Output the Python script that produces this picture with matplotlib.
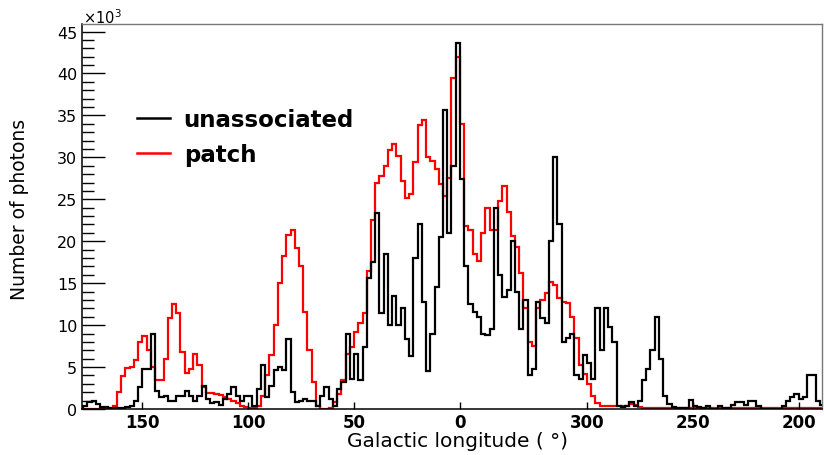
import numpy as np
import matplotlib
matplotlib.use("Agg")
import matplotlib.pyplot as plt
from matplotlib.ticker import MultipleLocator, FixedLocator, FuncFormatter

# 2-degree longitude bins, listed from l = +180 (left) down to l = -180 (right)
lon_edges_desc = np.arange(180, -181, -2)

# photon counts per bin, in thousands
patch_counts = [
    0.0, 0.0, 0.0, 0.0, 0.0, 0.0, 0.0, 0.0, 0.3, 2.0,
    3.9, 4.9, 5.0, 5.8, 8.0, 8.7, 7.0, 5.0, 3.4, 3.5,
    6.0, 10.8, 12.5, 11.5, 6.8, 4.3, 4.8, 6.5, 5.2, 2.6,
    1.9, 1.9, 1.8, 1.7, 1.4, 1.2, 1.0, 0.7, 0.4, 0.2,
    0.1, 0.1, 0.4, 1.6, 4.0, 6.4, 10.0, 15.0, 18.2, 20.8,
    21.4, 19.2, 17.0, 11.6, 7.0, 3.2, 0.3, 0.0, 0.0, 0.1,
    0.8, 1.8, 3.4, 6.5, 7.4, 9.2, 10.2, 11.5, 16.5, 22.5,
    27.0, 27.8, 29.0, 30.9, 31.6, 30.2, 27.2, 25.1, 25.6, 29.5,
    33.8, 34.4, 30.0, 29.6, 28.6, 26.8, 25.4, 27.5, 39.5, 42.0,
    34.0, 21.8, 21.3, 18.5, 17.6, 21.0, 24.0, 21.4, 21.4, 24.8,
    26.6, 23.5, 20.6, 19.3, 16.2, 12.0, 8.0, 7.5, 12.0, 13.0,
    13.8, 15.2, 14.8, 13.2, 12.8, 12.6, 11.0, 8.5, 5.3, 4.2,
    3.0, 1.6, 0.7, 0.4, 0.4, 0.4, 0.4, 0.3, 0.3, 0.3,
    0.6, 0.5, 0.2, 0.1, 0.1, 0.1, 0.1, 0.1, 0.1, 0.1,
    0.1, 0.1, 0.1, 0.1, 0.1, 0.1, 0.1, 0.1, 0.1, 0.1,
    0.1, 0.1, 0.1, 0.1, 0.1, 0.1, 0.1, 0.1, 0.1, 0.1,
    0.1, 0.1, 0.1, 0.1, 0.1, 0.1, 0.1, 0.1, 0.1, 0.1,
    0.1, 0.1, 0.1, 0.1, 0.1, 0.1, 0.1, 0.1, 0.1, 0.1,
]

unassociated_counts = [
    0.2, 0.3, 0.8, 0.9, 0.6, 0.2, 0.2, 0.1, 0.1, 0.1,
    0.1, 0.2, 0.4, 0.9, 2.6, 4.8, 4.8, 9.0, 2.2, 1.4,
    1.5, 1.0, 1.0, 1.6, 1.6, 2.1, 1.5, 1.0, 1.6, 2.7,
    1.2, 0.7, 0.8, 0.5, 1.2, 1.8, 2.6, 1.6, 1.0, 1.6,
    1.6, 0.3, 2.4, 5.2, 1.4, 2.8, 4.6, 5.0, 4.6, 8.4,
    2.0, 0.8, 1.0, 1.2, 0.9, 0.9, 0.3, 1.6, 2.6, 1.2,
    0.3, 2.4, 3.2, 8.9, 3.6, 6.6, 3.4, 7.4, 15.6, 17.5,
    23.4, 11.5, 18.5, 10.0, 13.5, 10.0, 12.0, 8.3, 6.3, 18.0,
    22.0, 12.8, 4.5, 9.0, 14.5, 20.5, 35.6, 21.0, 29.0, 43.6,
    27.4, 17.0, 12.5, 11.6, 11.0, 9.0, 8.8, 9.5, 24.0, 16.0,
    13.4, 14.2, 20.0, 14.0, 9.5, 13.0, 4.0, 4.8, 12.8, 10.8,
    10.3, 20.0, 30.0, 22.0, 8.0, 8.5, 9.0, 4.1, 3.6, 6.4,
    5.5, 3.6, 12.0, 7.0, 12.0, 9.8, 8.0, 0.3, 0.2, 0.4,
    0.8, 0.4, 0.9, 3.5, 4.8, 7.0, 11.0, 6.0, 1.6, 0.6,
    0.2, 0.1, 0.1, 0.1, 1.1, 0.4, 0.2, 0.1, 0.3, 0.05,
    0.0, 0.3, 0.1, 0.1, 0.5, 0.8, 0.8, 0.5, 1.0, 1.0,
    0.4, 0.05, 0.0, 0.0, 0.0, 0.05, 0.4, 0.9, 1.4, 1.8,
    1.2, 1.4, 4.0, 4.0, 1.0, 0.5, 0.4, 0.3, 0.3, 0.3,
]

series_labels = ["unassociated", "patch"]
tick_longitudes = [150, 100, 50, 0, 300, 250, 200]

plt.rcParams["font.family"] = ["DejaVu Sans"]

fig = plt.figure(figsize=(8.24, 4.56), dpi=100)
ax = fig.add_axes([82 / 824, 46 / 456, 740 / 824, 385 / 456])

# stairs wants ascending edges, so flip bins and counts together
edges = lon_edges_desc[::-1]
black_hist = ax.stairs(np.array(unassociated_counts)[::-1], edges, color="black",
                       linewidth=1.6, label=series_labels[0], baseline=0)
ax.stairs(np.array(patch_counts)[::-1], edges, color="#ff0000",
          linewidth=1.6, label=series_labels[1], baseline=0)
black_hist.set_zorder(3)

ax.set_xlim(178.5, -171.0)
ax.set_ylim(0, 45.9)

signed_ticks = [t if t <= 180 else t - 360 for t in tick_longitudes]
ax.xaxis.set_major_locator(FixedLocator(signed_ticks))
ax.xaxis.set_major_formatter(FuncFormatter(lambda v, p: f"{int(round(v)) % 360}"))
ax.yaxis.set_major_locator(MultipleLocator(5))
ax.yaxis.set_minor_locator(MultipleLocator(1))

ax.tick_params(axis="x", which="major", direction="in", length=5, width=1,
               labelsize=12, pad=3)
for lbl in ax.get_xticklabels():
    lbl.set_fontweight("bold")
ax.tick_params(axis="y", which="major", direction="in", length=16.5, width=1,
               labelsize=11.5, pad=3.5)
ax.tick_params(axis="y", which="minor", direction="in", length=8.5, width=1)

for side in ["left", "bottom"]:
    ax.spines[side].set_color("black")
    ax.spines[side].set_linewidth(1.1)
for side in ["top", "right"]:
    ax.spines[side].set_color("#777777")
    ax.spines[side].set_linewidth(1.0)

fig.text(83 / 824, 1 - 24 / 456, r"$\times10^{3}$", fontsize=10.5,
         ha="left", va="baseline")

fig.text(457.5 / 824, 1 - 442 / 456, "Galactic longitude ( °)", fontsize=14.5,
         ha="center", va="center")
fig.text(20 / 824, 1 - 209 / 456, "Number of photons", fontsize=13.5,
         rotation=90, ha="center", va="center")

leg = ax.legend(loc="upper left", bbox_to_anchor=(0.074, 0.782), frameon=False,
                prop={"weight": "bold", "size": 16.5}, handlelength=1.45,
                handletextpad=0.6, labelspacing=0.54, borderpad=0,
                borderaxespad=0)
for line in leg.get_lines():
    line.set_linewidth(1.8)

fig.savefig("out.png", dpi=100)
